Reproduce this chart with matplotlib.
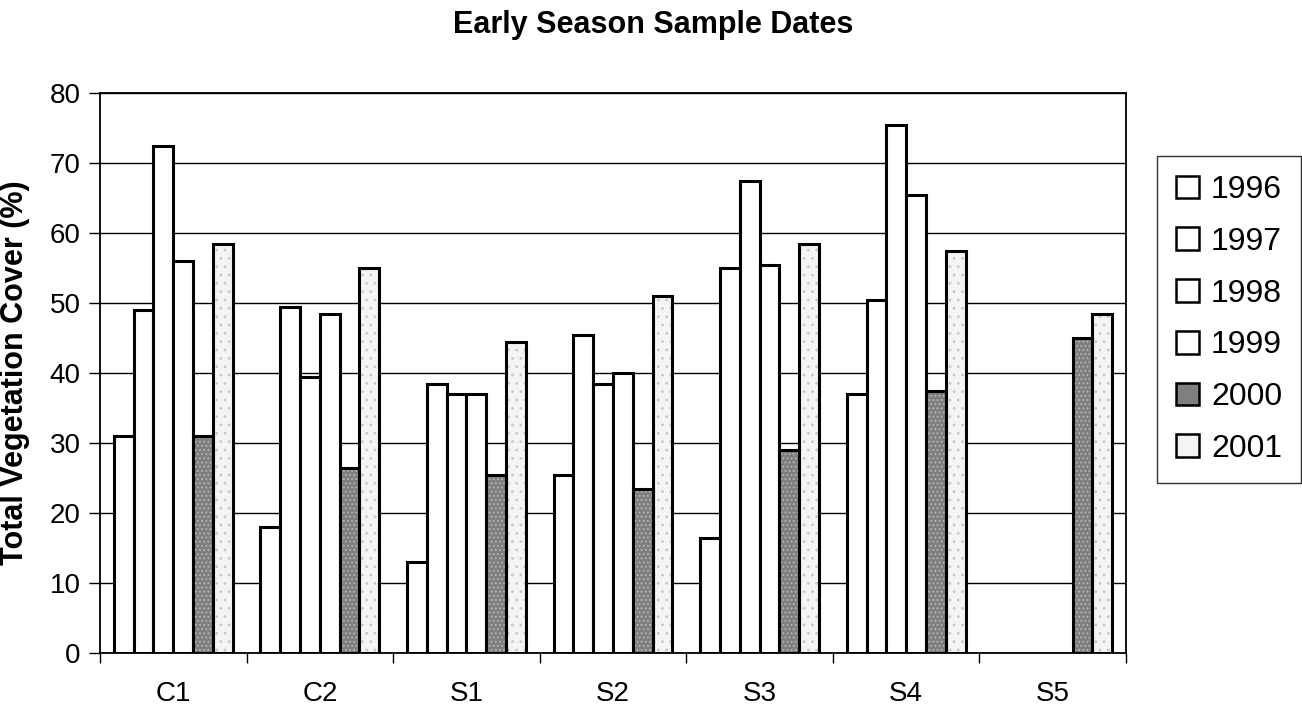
import numpy as np
import matplotlib
matplotlib.use("Agg")
import matplotlib.pyplot as plt

plt.rcParams['font.family'] = ['Liberation Sans', 'DejaVu Sans']
plt.rcParams['hatch.linewidth'] = 0.8

categories = ["C1", "C2", "S1", "S2", "S3", "S4", "S5"]
years = ["1996", "1997", "1998", "1999", "2000", "2001"]
v1996 = [31.0, 18.0, 13.0, 25.5, 16.5, 37.0, np.nan]
v1997 = [49.0, 49.5, 38.5, 45.5, 55.0, 50.5, np.nan]
v1998 = [72.5, 39.5, 37.0, 38.5, 67.5, 75.5, np.nan]
v1999 = [56.0, 48.5, 37.0, 40.0, 55.5, 65.5, np.nan]
v2000 = [31.0, 26.5, 25.5, 23.5, 29.0, 37.5, 45.0]
v2001 = [58.5, 55.0, 44.5, 51.0, 58.5, 57.5, 48.5]
series = [v1996, v1997, v1998, v1999, v2000, v2001]
colors = ["white", "white", "white", "white", "#7f7f7f", "#f4f4f4"]
stipple = [None, None, None, None, ("....", "#b8b8b8"), ("..", "#c8c8c8")]

W, H = 1302, 707
fig = plt.figure(figsize=(W / 100, H / 100), dpi=100)
ax_l, ax_r, ax_t, ax_b = 100, 1126, 93, 653
ax = fig.add_axes([ax_l / W, 1 - ax_b / H, (ax_r - ax_l) / W, (ax_b - ax_t) / H])

x = np.arange(len(categories))
w = 0.135
for i, (vals, yr, c, st) in enumerate(zip(series, years, colors, stipple)):
    pos = x + (i - 2.5) * w
    if st is not None:
        ax.bar(pos, vals, width=w, color=c, hatch=st[0], edgecolor=st[1],
               linewidth=0, zorder=3)
        ax.bar(pos, vals, width=w, fill=False, edgecolor="black",
               linewidth=2.2, zorder=4)
        ax.bar([np.nan], [np.nan], color=c, edgecolor="black", linewidth=1.8,
               label=yr)
    else:
        ax.bar(pos, vals, width=w, color=c, edgecolor="black",
               linewidth=2.2, label=yr, zorder=3)

ax.set_xlim(-0.5, len(categories) - 0.5)
ax.set_ylim(0, 80)
ax.set_yticks(np.arange(0, 81, 10))
ax.yaxis.grid(True, color="black", linewidth=1.0, zorder=0)
ax.set_axisbelow(True)
ax.set_xticks(x)
ax.set_xticklabels(categories, fontsize=20)
ax.set_xticks(np.arange(-0.5, len(categories), 1), minor=True)
ax.tick_params(axis="x", which="major", length=0, pad=20)
ax.tick_params(axis="x", which="minor", length=7, width=1, direction="out")
ax.tick_params(axis="y", labelsize=20, length=8, width=1, direction="out", pad=6)
for s in ax.spines.values():
    s.set_linewidth(1.3)

ax.set_ylabel("Total Vegetation Cover (%)", fontsize=22, fontweight="bold")
ax.yaxis.set_label_coords(-0.068, 0.5)
fig.text(653 / W, 1 - 25 / H, "Early Season Sample Dates", fontsize=22,
         fontweight="bold", ha="center", va="center")

leg = ax.legend(loc="upper left", bbox_to_anchor=(1157 / W, 1 - 156 / H),
                bbox_transform=fig.transFigure, fontsize=23, frameon=True,
                fancybox=False, edgecolor="black", handlelength=0.72,
                handleheight=0.72, handletextpad=0.37, labelspacing=0.68,
                borderpad=0.6, borderaxespad=0)
leg.get_frame().set_linewidth(1.0)
for h in leg.legend_handles:
    h.set_linewidth(1.8)

fig.savefig("out.png", dpi=100)
